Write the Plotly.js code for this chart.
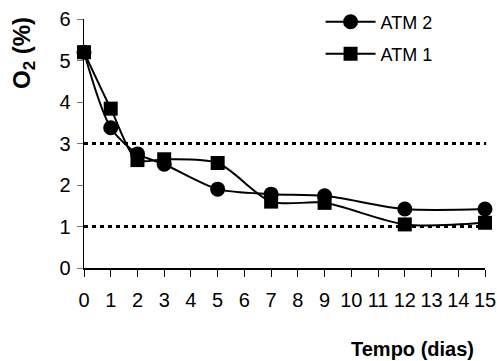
<!DOCTYPE html>
<html>
<head>
<meta charset="utf-8">
<script src="https://cdn.plot.ly/plotly-3.0.1.min.js"></script>
<style>html,body{margin:0;padding:0;background:#fff}#chart{width:497px;height:361px}</style>
</head>
<body>
<div id="chart"></div>
<script>
const days = [0, 1, 2, 3, 5, 7, 9, 12, 15];
const atm2 = [5.2, 3.38, 2.75, 2.5, 1.9, 1.78, 1.74, 1.42, 1.42];
const atm1 = [5.2, 3.84, 2.6, 2.62, 2.53, 1.6, 1.57, 1.05, 1.09];
const xTicks = [0,1,2,3,4,5,6,7,8,9,10,11,12,13,14,15];
const yTicks = [0,1,2,3,4,5,6];
const refLevels = [3, 1];

const font = 'Arial, "Liberation Sans", sans-serif';

const traces = [
  {x: days, y: atm2, name: 'ATM 2', type: 'scatter', mode: 'lines+markers',
   line: {color: '#000', width: 2, shape: 'spline', smoothing: 0.8},
   marker: {symbol: 'circle', size: 15, color: '#000'}, legend: 'legend', cliponaxis: false},
  {x: days, y: atm1, name: 'ATM 1', type: 'scatter', mode: 'lines+markers',
   line: {color: '#000', width: 2, shape: 'spline', smoothing: 0.8},
   marker: {symbol: 'square', size: 14, color: '#000'}, legend: 'legend2', cliponaxis: false}
];

const shapes = refLevels.map(v => ({
  type: 'line', xref: 'paper', yref: 'y', x0: 0, x1: 1.003, y0: v, y1: v,
  line: {color: '#000', width: 3, dash: '4px,4px'}, layer: 'below'
}));

const legendCommon = {xref: 'container', yref: 'container', xanchor: 'left', yanchor: 'middle',
  bgcolor: 'rgba(0,0,0,0)', borderwidth: 0,
  font: {family: font, size: 18, color: '#000'}, itemwidth: 50};

const layout = {
  width: 497, height: 361,
  margin: {l: 84, r: 12, t: 19, b: 93, autoexpand: false},
  paper_bgcolor: '#fff', plot_bgcolor: '#fff',
  font: {family: font, size: 16, color: '#000'},
  showlegend: true,
  xaxis: {
    range: [0, 15], tickvals: xTicks, ticktext: xTicks.map(String),
    showgrid: false, zeroline: false, showline: true, linecolor: '#000', linewidth: 1.5,
    ticks: 'outside', ticklen: 7, tickcolor: '#000', tickwidth: 1, ticklabelstandoff: 6,
    tickfont: {family: font, size: 20, color: '#000'}, fixedrange: true, automargin: false
  },
  yaxis: {
    range: [0, 6], tickvals: yTicks, ticktext: yTicks.map(String),
    showgrid: false, zeroline: false, showline: true, linecolor: '#000', linewidth: 1.5,
    ticks: 'outside', ticklen: 6, tickcolor: '#777', tickwidth: 1, ticklabelstandoff: 2,
    tickfont: {family: font, size: 20, color: '#000'}, fixedrange: true, automargin: false
  },
  legend: Object.assign({x: 0.645, y: 0.939}, legendCommon),
  legend2: Object.assign({x: 0.645, y: 0.850}, legendCommon),
  shapes: shapes,
  annotations: [
    {text: '<b>O<sub>2</sub> (%)</b>', xref: 'paper', yref: 'paper', x: 0, y: 1.0,
     xanchor: 'center', yanchor: 'middle', xshift: -61, yshift: -34, textangle: -90,
     showarrow: false, font: {family: font, size: 24, color: '#000'}},
    {text: '<b>Tempo (dias)</b>', xref: 'paper', yref: 'paper', x: 0.818, y: 0,
     xanchor: 'center', yanchor: 'middle', yshift: -81,
     showarrow: false, font: {family: font, size: 20, color: '#000'}}
  ]
};

Plotly.newPlot('chart', traces, layout, {displayModeBar: false, staticPlot: true});
</script>
</body>
</html>
